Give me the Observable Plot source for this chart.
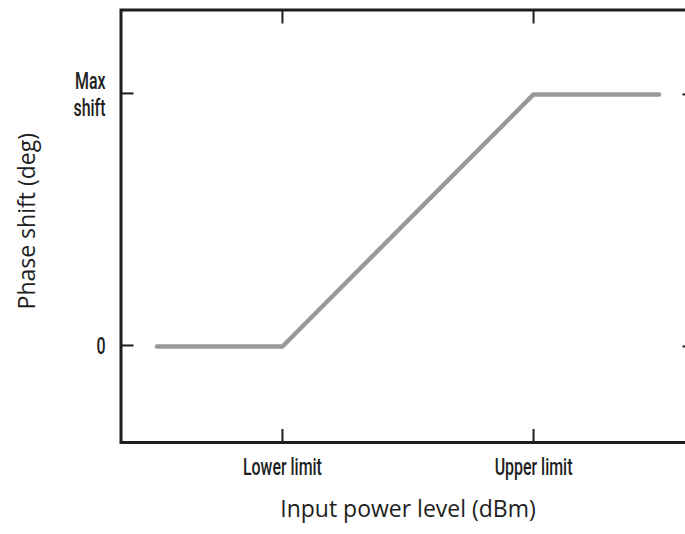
<!DOCTYPE html>
<html><head><meta charset="utf-8">
<script src="https://cdn.jsdelivr.net/npm/d3@7"></script>
<script src="https://cdn.jsdelivr.net/npm/@observablehq/plot@0.6"></script>
<style>
body{margin:0;background:#fff;overflow:hidden}
#chart svg{overflow:hidden;display:block}
</style></head><body><div id="chart"></div>
<script>
const inputPower = [0.5, 1, 2, 2.5];
const phaseShift = [0, 0, 1, 1];
const xTicks = [1, 2];
const xTickLabels = ["Lower limit", "Upper limit"];
const yTicks = [0, 1];
const yTickLabels = ["0", "Max\nshift"];
const xTitle = "Input power level (dBm)";
const yTitle = "Phase shift (deg)";

const data = inputPower.map((x, i) => ({x, y: phaseShift[i]}));
const tickFont = "Roboto, 'Liberation Sans', sans-serif";
const titleFont = "'Open Sans', Lato, sans-serif";
const ink = "#1e1e1e";

const chart = Plot.plot({
  width: 685, height: 534,
  marginLeft: 120.5, marginRight: -9.5, marginTop: 9.5, marginBottom: 92,
  x: {domain: [0.357, 2.643]},
  y: {domain: [-0.381, 1.335]},
  style: {background: "white", fontFamily: tickFont, fontSize: "24px", fontWeight: 500, color: ink},
  marks: [
    Plot.frame({stroke: ink, strokeWidth: 3}),
    Plot.line(data, {x: "x", y: "y", stroke: "#999999", strokeWidth: 4.5}),
    Plot.axisX(xTicks, {anchor: "bottom", tickSize: -13, strokeWidth: 2, tickPadding: 28,
      tickFormat: d => xTickLabels[xTicks.indexOf(d)], label: null, fill: ink}),
    Plot.axisX(xTicks, {anchor: "top", tickSize: -13, strokeWidth: 2, tickFormat: () => "", label: null}),
    Plot.axisY(yTicks, {anchor: "left", tickSize: -13, strokeWidth: 2, tickPadding: 28.5, dy: -1,
      tickFormat: d => yTickLabels[yTicks.indexOf(d)], label: null, lineHeight: 1.125, fill: ink}),
    Plot.axisY(yTicks, {anchor: "right", tickSize: -13, strokeWidth: 2, tickFormat: () => "", label: null}),
    Plot.text([yTitle], {frameAnchor: "left", dx: -93, dy: -5, rotate: -90, text: d => d,
      textAnchor: "middle", lineAnchor: "middle",
      fontFamily: titleFont, fontSize: 23, fontWeight: 400, fill: ink}),
    Plot.text([xTitle], {frameAnchor: "bottom", dy: 67, text: d => d,
      textAnchor: "middle", lineAnchor: "middle",
      fontFamily: titleFont, fontSize: 23, fontWeight: 400, fill: ink})
  ]
});
document.getElementById("chart").append(chart);

// condense the tick labels horizontally (the reference uses a condensed face)
const tickTexts = d3.select(chart).selectAll("g[aria-label='x-axis tick label'] text, g[aria-label='y-axis tick label'] text");
let ref = null;
tickTexts.each(function() { if (this.textContent === xTickLabels[0]) ref = this; });
if (ref) {
  const s = 79 / ref.getComputedTextLength();
  tickTexts.each(function() {
    const t = this.getAttribute("transform") || "";
    this.setAttribute("transform", t + ` scale(${s},1)`);
  });
}
</script></body></html>
